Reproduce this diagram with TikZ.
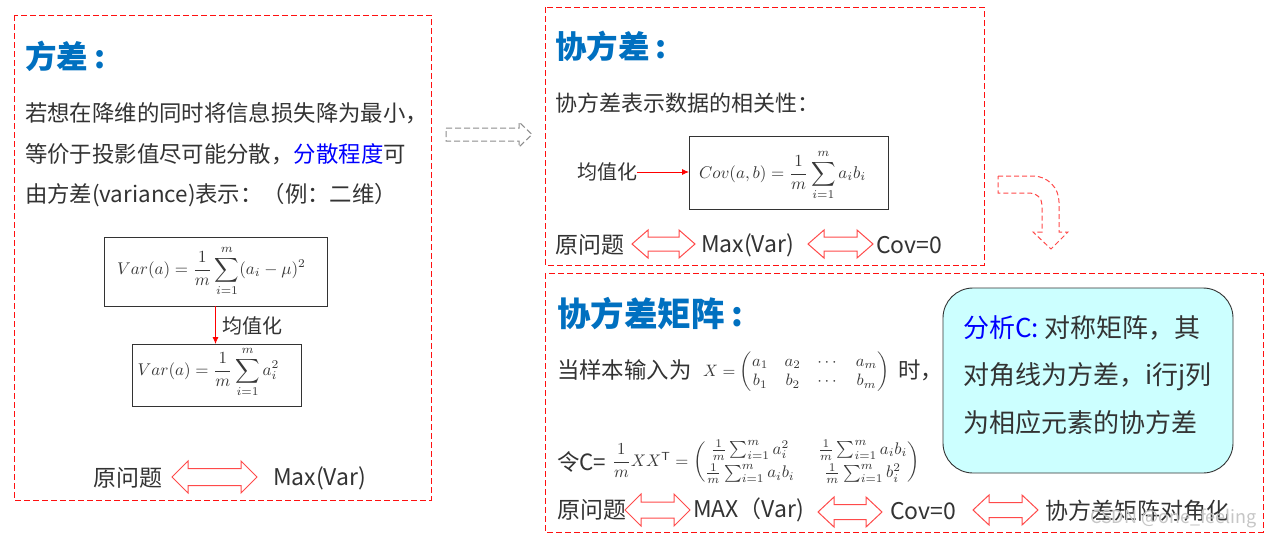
\documentclass[tikz,border=0pt]{standalone}
\usepackage{amsmath}
\usepackage{graphicx}
\usepackage[no-math]{fontspec}
\setmainfont{Noto Sans CJK SC}
\usetikzlibrary{arrows.meta}
\definecolor{boxred}{HTML}{FF1010}
\definecolor{titleblue}{HTML}{0070C0}
\definecolor{hlblue}{HTML}{0000FF}
\definecolor{txt}{HTML}{333333}
\definecolor{mathc}{HTML}{383838}
\definecolor{arrred}{HTML}{FF4A4A}
\definecolor{cyanfill}{HTML}{CCFFFF}
\definecolor{grayarr}{HTML}{8C8C8C}
\newcommand\DArr[5]{%
 \draw[dblarr] (#1,#3) -- ({#1+16},{#3-#4}) -- ({#1+16},{#3-#5}) -- ({#2-16},{#3-#5}) -- ({#2-16},{#3-#4}) -- (#2,#3) -- ({#2-16},{#3+#4}) -- ({#2-16},{#3+#5}) -- ({#1+16},{#3+#5}) -- ({#1+16},{#3+#4}) -- cycle;}
\begin{document}
\begin{tikzpicture}[x=1pt,y=-1pt,
  every node/.style={inner sep=0pt,outer sep=0pt},
  outerbox/.style={draw=boxred,line width=0.8pt,dash pattern=on 6pt off 3pt},
  ttl/.style={font=\fontsize{31.5}{36}\selectfont\bfseries,text=titleblue,anchor=west},
  bodytxt/.style={font=\fontsize{22.4}{26}\selectfont,text=txt,anchor=west},
  rowtxt/.style={font=\fontsize{23}{26}\selectfont,text=txt,anchor=west},
  lab/.style={font=\fontsize{20}{24}\selectfont,text=txt,anchor=west},
  fbox/.style={draw=txt,line width=0.9pt,fill=white},
  mathf/.style={font=\fontsize{10}{12}\selectfont,text=mathc},
  redarr/.style={draw=red,line width=0.8pt,-{Latex[length=7pt,width=6pt]}},
  dblarr/.style={draw=arrred,line width=1pt,fill=white},
  cyanbox/.style={draw=txt,line width=0.9pt,fill=cyanfill,rounded corners=30pt},
  cyantxt/.style={font=\fontsize{26}{30}\selectfont,text=txt,anchor=west},
  wmark/.style={font=\fontsize{18}{20}\selectfont,text=gray!45,anchor=west}]
\useasboundingbox (0,0) rectangle (1280,538);
\fill[white] (0,0) rectangle (1280,538);

% outer dashed frames
\draw[outerbox] (14,15) rectangle (431,500);
\draw[outerbox] (545,7) rectangle (984,265);
\draw[outerbox] (545,273) rectangle (1263,532);

% gray dashed block arrow
\draw[draw=grayarr,line width=1pt,dash pattern=on 6pt off 3pt] (446,128) -- (519,128) -- (519,122) -- (532,134.5) -- (519,147) -- (519,141) -- (446,141) -- cycle;

% curved red dashed block arrow
\draw[draw=arrred,line width=1pt,dash pattern=on 5pt off 3pt] (998,176) -- (1033,176) arc[start angle=-90,end angle=0,radius=26] -- (1059,232) -- (1068,232) -- (1051,249) -- (1033,232) -- (1042,232) -- (1042,205) arc[start angle=0,end angle=-90,radius=12] -- (998,193) -- cycle;

% ---------- box 1 ----------
\node[ttl] (t1) at (25,56) {方差\hspace{0.2em}:};
\node[bodytxt] (p1a) at (25,113) {若想在降维的同时将信息损失降为最小，};
\node[bodytxt] (p1b) at (25,154) {等价于投影值尽可能分散，\textcolor{hlblue}{分散程度}可};
\node[bodytxt] (p1c) at (25,195) {由方差(variance)表示：（例：二维）};

\node[fbox,minimum width=223,minimum height=69] (f1) at (215.5,271.5) {};
\node[mathf] (f1m) at (211.5,271) {\scalebox{1.7}{$\displaystyle Var(a)=\frac{1}{m}\sum_{i=1}^{m}(a_i-\mu)^2$}};
\node[fbox,minimum width=169,minimum height=62] (f2) at (216.5,375) {};
\node[mathf] (f2m) at (208.5,372) {\scalebox{1.7}{$\displaystyle Var(a)=\frac{1}{m}\sum_{i=1}^{m}a_i^2$}};
\draw[redarr] (f1.south) -- (f1.south |- f2.north);
\node[lab] (jz1) at (222,326) {均值化};

\node[rowtxt] (r1a) at (93,478) {原问题};
\DArr{172}{257}{477}{16}{8.5}
\node[rowtxt] (r1b) at (273,478) {Max(Var)};

% ---------- box 2 ----------
\node[ttl] (t2) at (555,46) {协方差\hspace{0.2em}:};
\node[bodytxt,font=\fontsize{22}{26}\selectfont] (p2) at (555,103) {协方差表示数据的相关性：};
\node[fbox,minimum width=199,minimum height=73] (f3) at (788.5,172.5) {};
\node[mathf] (f3m) at (782.5,175) {\scalebox{1.7}{$\displaystyle Cov(a,b)=\frac{1}{m}\sum_{i=1}^{m}a_ib_i$}};
\node[lab] (jz2) at (577,172) {均值化};
\draw[redarr] (jz2.east) -- (jz2.east -| f3.west);

\node[rowtxt] (r2a) at (555,245) {原问题};
\DArr{632}{695}{244}{14}{7}
\node[rowtxt] (r2b) at (701,245) {Max(Var)};
\DArr{808}{873}{244}{14}{7}
\node[rowtxt] (r2c) at (876,245) {Cov=0};

% ---------- box 3 ----------
\node[ttl,font=\fontsize{33.5}{38}\selectfont\bfseries] (t3) at (557,314) {协方差矩阵\hspace{0.2em}:};
\node[bodytxt] (p3a) at (557,370) {当样本输入为};
\node[mathf,anchor=west] (xm) at (703,372) {\scalebox{1.65}{$X=\begin{pmatrix}a_1&a_2&\cdots&a_m\\ b_1&b_2&\cdots&b_m\end{pmatrix}$}};
\node[bodytxt] (p3b) at (898,370) {时，};
\node[bodytxt] (p3c) at (557,462) {令C=};
\node[mathf,anchor=west] (cm) at (612,462) {\scalebox{1.68}{\setlength{\arraycolsep}{7pt}$\dfrac{1}{m}XX^{\mathsf{T}}=\begin{pmatrix}\frac{1}{m}\sum_{i=1}^{m}a_i^2 & \frac{1}{m}\sum_{i=1}^{m}a_ib_i\\[2pt] \frac{1}{m}\sum_{i=1}^{m}a_ib_i & \frac{1}{m}\sum_{i=1}^{m}b_i^2\end{pmatrix}$}};

\node[rowtxt] (r3a) at (557,510) {原问题};
\DArr{625}{690}{510}{16}{8}
\node[rowtxt] (r3b) at (693,510) {MAX（Var)};
\DArr{818}{882}{512}{15}{7.5}
\node[rowtxt] (r3c) at (890,511) {Cov=0};
\DArr{973}{1038}{510}{15}{7.5}
\node[rowtxt] (r3d) at (1045,511) {协方差矩阵对角化};

% cyan note
\node[cyanbox,minimum width=290,minimum height=185] (cy) at (1088,380.5) {};
\node[cyantxt] (cy1) at (963,328) {\textcolor{hlblue}{分析C:} 对称矩阵，其};
\node[cyantxt] (cy2) at (963,377) {对角线为方差，i行j列};
\node[cyantxt] (cy3) at (963,423) {为相应元素的协方差};

\node[wmark] (wm) at (1090,518) {CSDN @one\_feeling};
\end{tikzpicture}
\end{document}
